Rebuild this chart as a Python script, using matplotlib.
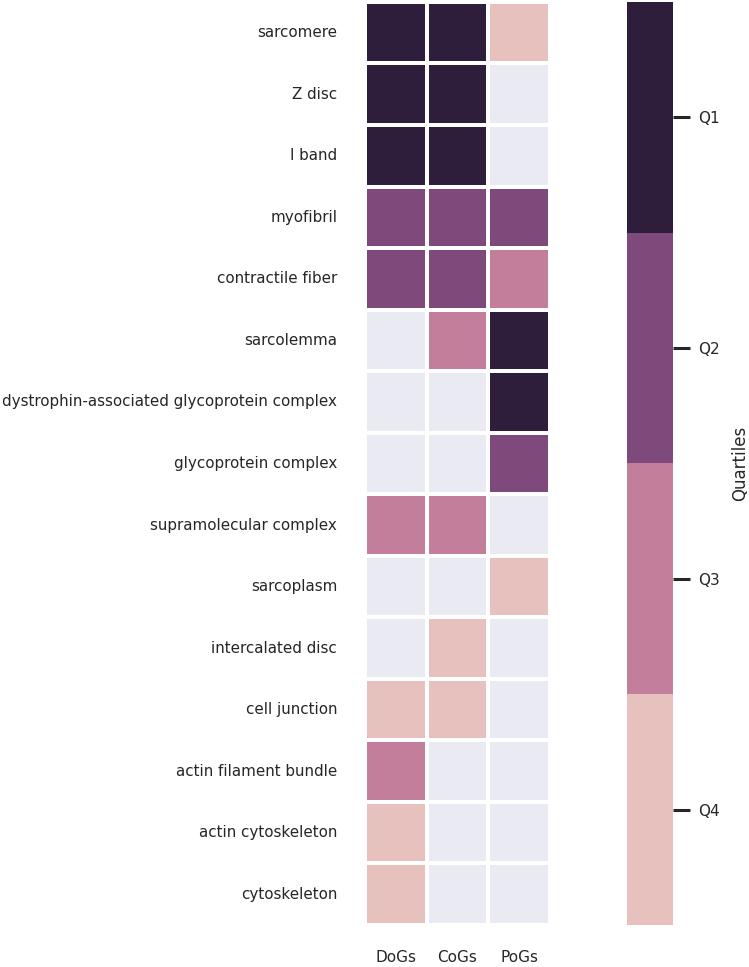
import numpy as np
import matplotlib
matplotlib.use("Agg")
import matplotlib.pyplot as plt
import seaborn as sns
from matplotlib.colors import ListedColormap

terms = [
    "sarcomere", "Z disc", "I band", "myofibril", "contractile fiber",
    "sarcolemma", "dystrophin-associated glycoprotein complex",
    "glycoprotein complex", "supramolecular complex", "sarcoplasm",
    "intercalated disc", "cell junction", "actin filament bundle",
    "actin cytoskeleton", "cytoskeleton",
]
groups = ["DoGs", "CoGs", "PoGs"]
nan = np.nan
# quartile per term (1 = Q1 ... 4 = Q4), NaN = not enriched
dogs = [1, 1, 1, 2, 2, nan, nan, nan, 3, nan, nan, 4, 3, 4, 4]
cogs = [1, 1, 1, 2, 2, 3, nan, nan, 3, nan, 4, 4, nan, nan, nan]
pogs = [4, nan, nan, 2, 3, 1, 1, 2, nan, 4, nan, nan, nan, nan, nan]
quartile_labels = ["Q1", "Q2", "Q3", "Q4"]

sns.set_theme()
plt.rcParams["axes.grid"] = False
data = np.array([dogs, cogs, pogs]).T

cmap = ListedColormap(["#2e1e3c", "#7e4a7b", "#c27e9a", "#e7c1bd"])

fig = plt.figure(figsize=(7.49, 9.67), dpi=100)
ax = fig.add_axes([0.4873, 0.0434, 0.2470, 0.9546])
cax = fig.add_axes([0.837, 0.0434, 0.062, 0.9546])

sns.heatmap(data, ax=ax, cbar_ax=cax, cmap=cmap, vmin=0.5, vmax=4.5,
            linewidths=1.5, linecolor="white",
            xticklabels=groups, yticklabels=terms,
            cbar_kws={"ticks": [1, 2, 3, 4]})
ax.grid(False)
ax.tick_params(axis="y", rotation=0, pad=14, labelsize=10.9)
ax.tick_params(axis="x", pad=12)

cbar = ax.collections[0].colorbar
cbar.set_ticklabels(quartile_labels)
cbar.ax.invert_yaxis()
cbar.ax.tick_params(length=12, width=2.2, color="#262626", pad=6)
cbar.set_label("Quartiles", labelpad=8)
cbar.outline.set_visible(False)

fig.savefig("out.png", dpi=100)
